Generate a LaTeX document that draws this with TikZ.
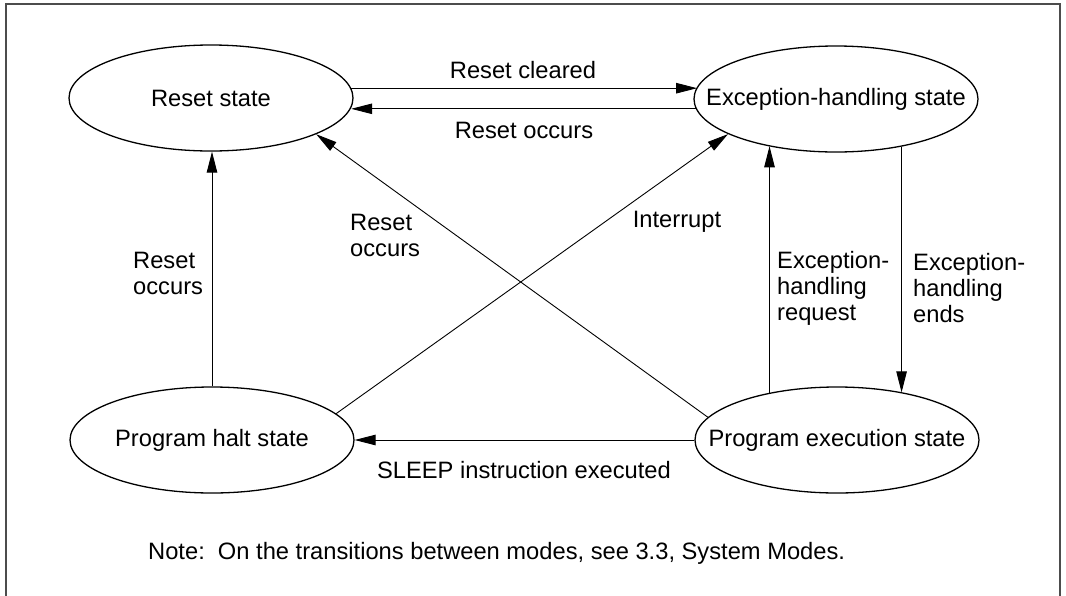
\documentclass[tikz,border=0pt]{standalone}
\usepackage{fontspec}
\setmainfont{Liberation Sans}
\usetikzlibrary{shapes.geometric,arrows.meta}
\begin{document}
\begin{tikzpicture}[x=1pt,y=-1pt,
  every node/.style={font=\fontsize{23.7}{26}\selectfont},
  state/.style={draw,ellipse,line width=1.3pt,minimum width=284pt,minimum height=106pt,inner sep=0pt},
  conn/.style={line width=0.9pt,-{Triangle[length=21pt,width=10.5pt]}},
  lbl/.style={inner sep=0pt,align=center},
  lbll/.style={inner sep=0pt,align=left,anchor=west},
  frame/.style={draw=black!70,line width=2pt}]
\useasboundingbox (0,0) rectangle (1066,595);
\draw[frame] (6,596) -- (6,4) -- (1060,4) -- (1060,596);

\node[state,label={[lbl]center:Reset state}] (reset) at (211,98) {};
\node[state,label={[lbl]center:Exception-handling state}] (exc) at (836,99) {};
\node[state,label={[lbl]center:Program halt state}] (halt) at (212,440) {};
\node[state,label={[lbl]center:Program execution state}] (exec) at (837,440) {};

% top pair
\draw[conn] (reset.4.5) -- (reset.4.5 -| exc.175.5);
\draw[conn] (exc.184.5) -- (exc.184.5 -| reset.-4.5);
\node[lbl] (lrc) at (523,70) {Reset cleared};
\node[lbl] (lro) at (524,130) {Reset occurs};

% vertical reset
\draw[conn] (halt.north) -- (halt.north |- reset.south);
\node[lbll] (lrv) at (133,273) {Reset\\occurs};

% diagonals
\draw[conn] (exec.170) -- (reset.-19);
\node[lbll] (lrd) at (350,235) {Reset\\occurs};
\draw[conn] (halt.12) -- (exc.198);
\node[lbl] (lint) at (677,222) {Interrupt};

% exception verticals
\draw[conn] (exec.145) -- (exec.145 |- exc.215.5);
\node[lbll] (lreq) at (777,288) {Exception-\\handling\\request};
\draw[conn] (exc.-36) -- (exc.-36 |- exec.36);
\node[lbll] (lend) at (913,288) {Exception-\\handling\\ends};

% sleep
\draw[conn] (exec.west) -- (halt.east);
\node[lbl] (lsl) at (524,470) {SLEEP instruction executed};

\node[lbll] (note) at (148,553) {Note:\ \ On the transitions between modes, see 3.3, System Modes.};
\end{tikzpicture}
\end{document}
